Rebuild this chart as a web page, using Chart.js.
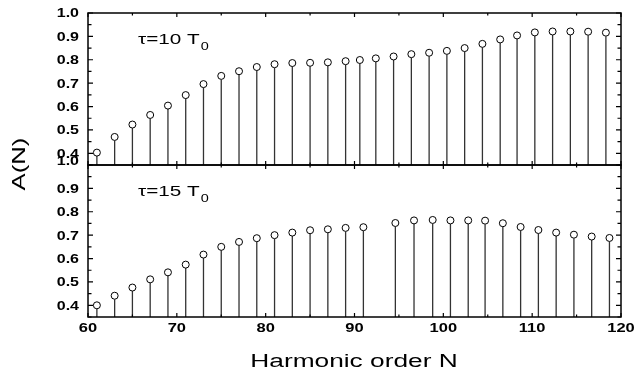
<!DOCTYPE html>
<html>
<head>
<meta charset="utf-8">
<title>A(N) vs harmonic order</title>
<script src="https://cdn.jsdelivr.net/npm/chart.js@4.4.0/dist/chart.umd.min.js"></script>
<style>
  html, body { margin: 0; padding: 0; background: #fff; }
  #wrap { width: 635px; height: 373px; }
</style>
</head>
<body>
<div id="wrap"><canvas id="chart"></canvas></div>
<script>
// harmonic orders and amplitudes
const topN = [61, 63, 65, 67, 69, 71, 73, 75, 77, 79, 81, 83, 85, 87, 89,
  90.6, 92.4, 94.4, 96.4, 98.4, 100.4, 102.4, 104.4, 106.4, 108.3, 110.3, 112.3, 114.3, 116.3, 118.3];
const topA = [0.403, 0.470, 0.523, 0.564, 0.604, 0.649, 0.696, 0.731, 0.751, 0.769, 0.781, 0.786, 0.787, 0.789, 0.794,
  0.799, 0.806, 0.814, 0.824, 0.830, 0.838, 0.850, 0.868, 0.887, 0.904, 0.917, 0.921, 0.921, 0.920, 0.916];

const botN = [61, 63, 65, 67, 69, 71, 73, 75, 77, 79, 81, 83, 85, 87, 89, 91,
  94.6, 96.7, 98.8, 100.8, 102.8, 104.7, 106.7, 108.7, 110.7, 112.7, 114.7, 116.7, 118.7];
const botA = [0.400, 0.441, 0.476, 0.511, 0.541, 0.574, 0.617, 0.650, 0.671, 0.687, 0.700, 0.711, 0.721, 0.725, 0.731, 0.734,
  0.752, 0.763, 0.765, 0.763, 0.763, 0.762, 0.751, 0.735, 0.722, 0.711, 0.702, 0.694, 0.688];

const xTicks = [60, 70, 80, 90, 100, 110, 120];
const yTicks = ['0.4', '0.5', '0.6', '0.7', '0.8', '0.9', '1.0'];
const panelLabels = ['10', '15'];

const FONT = '"Liberation Sans", Arial, sans-serif';
const SX = 1.38; // the original text is drawn wide

function wideText(ctx, text, x, y, sx, align) {
  ctx.save();
  ctx.translate(x, y);
  ctx.scale(sx, 1);
  ctx.textAlign = align;
  ctx.fillText(text, 0, 0);
  ctx.restore();
}

const stems = {
  id: 'stems',
  beforeDatasetsDraw(chart) {
    const ctx = chart.ctx;
    ctx.save();
    ctx.strokeStyle = '#333';
    ctx.lineWidth = 1.3;
    chart.data.datasets.forEach((ds, i) => {
      const meta = chart.getDatasetMeta(i);
      const ys = chart.scales[ds.yAxisID];
      meta.data.forEach(pt => {
        ctx.beginPath();
        ctx.moveTo(pt.x, pt.y + 3.5);
        ctx.lineTo(pt.x, ys.bottom);
        ctx.stroke();
      });
    });
    ctx.restore();
  }
};

const frame = {
  id: 'frame',
  afterDatasetsDraw(chart) {
    const ctx = chart.ctx;
    const xs = chart.scales.x;
    const L = xs.left, R = xs.right;
    ctx.save();
    ctx.strokeStyle = '#000';
    ctx.fillStyle = '#000';
    ['yTop', 'yBot'].forEach((id, k) => {
      const ys = chart.scales[id];
      const T = ys.top, B = ys.bottom;
      ctx.lineWidth = 1.5;
      ctx.strokeRect(L, T, R - L, B - T);
      ctx.lineWidth = 1.2;
      // y ticks, inward on both sides
      ys.ticks.forEach(t => {
        const y = ys.getPixelForValue(t.value);
        const major = Math.round(t.value * 100) % 10 === 0;
        const len = major ? 5 : 3.5;
        ctx.beginPath();
        ctx.moveTo(L, y); ctx.lineTo(L + len, y);
        ctx.moveTo(R, y); ctx.lineTo(R - len, y);
        ctx.stroke();
      });
      // x ticks, inward on top and bottom edges
      xs.ticks.forEach(t => {
        const x = xs.getPixelForValue(t.value);
        const len = t.value % 10 === 0 ? 4 : 2.5;
        ctx.beginPath();
        ctx.moveTo(x, T); ctx.lineTo(x, T + len);
        ctx.moveTo(x, B); ctx.lineTo(x, B - len);
        ctx.stroke();
      });
      // y tick labels
      ctx.font = 'bold 12.5px ' + FONT;
      ctx.textBaseline = 'middle';
      yTicks.forEach(s => {
        const y = ys.getPixelForValue(parseFloat(s));
        wideText(ctx, s, 79, y + (k === 1 && s === '1.0' ? -3 : 1), 1.28, 'right');
      });
      // panel label with subscript
      ctx.textBaseline = 'alphabetic';
      ctx.font = '15px ' + FONT;
      const base = T + 31;
      const main = '\u03c4=' + panelLabels[k] + ' T';
      wideText(ctx, main, 138, base, SX, 'left');
      const w = ctx.measureText(main).width * SX;
      ctx.font = '10.5px ' + FONT;
      wideText(ctx, '0', 138 + w + 1, base + 6, SX, 'left');
    });
    // x tick labels
    ctx.font = 'bold 12.5px ' + FONT;
    ctx.textBaseline = 'middle';
    xTicks.forEach(v => {
      wideText(ctx, String(v), xs.getPixelForValue(v), 329, 1.32, 'center');
    });
    // axis titles
    ctx.textBaseline = 'alphabetic';
    ctx.font = '18px ' + FONT;
    wideText(ctx, 'Harmonic order N', 354, 367, 1.46, 'center');
    ctx.save();
    ctx.translate(25, 164);
    ctx.rotate(-Math.PI / 2);
    ctx.font = '17.5px ' + FONT;
    wideText(ctx, 'A(N)', 0, 0, 1.47, 'center');
    ctx.restore();
    ctx.restore();
  }
};

function yAxis() {
  return {
    type: 'linear',
    position: 'left',
    stack: 'panels',
    stackWeight: 1,
    min: 0.35,
    max: 1.0,
    ticks: { display: false, stepSize: 0.05 },
    grid: { display: false },
    border: { display: false },
    afterFit(scale) { scale.width = 88; }
  };
}

new Chart(document.getElementById('chart'), {
  type: 'scatter',
  data: {
    datasets: [
      {
        label: 'tau=15 T0',
        yAxisID: 'yBot',
        data: botN.map((n, i) => ({ x: n, y: botA[i] })),
        pointRadius: 3.5,
        pointBackgroundColor: '#fff',
        pointBorderColor: '#000',
        pointBorderWidth: 1
      },
      {
        label: 'tau=10 T0',
        yAxisID: 'yTop',
        data: topN.map((n, i) => ({ x: n, y: topA[i] })),
        pointRadius: 3.5,
        pointBackgroundColor: '#fff',
        pointBorderColor: '#000',
        pointBorderWidth: 1
      }
    ]
  },
  options: {
    responsive: true,
    maintainAspectRatio: false,
    animation: false,
    layout: { padding: { top: 13, right: 14, left: 0, bottom: 0 } },
    plugins: {
      legend: { display: false },
      tooltip: { enabled: false }
    },
    scales: {
      x: {
        type: 'linear',
        min: 60,
        max: 120,
        ticks: { display: false, stepSize: 5 },
        grid: { display: false },
        border: { display: false },
        afterFit(scale) { scale.height = 56; }
      },
      yBot: yAxis(),
      yTop: yAxis()
    }
  },
  plugins: [stems, frame]
});
</script>
</body>
</html>
